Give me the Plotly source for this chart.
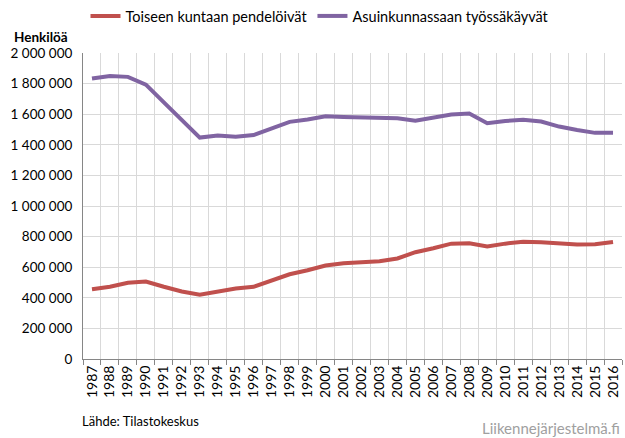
import plotly.graph_objects as go

years = [str(y) for y in range(1987, 2017)]
toiseen_kuntaan = [456000, 472000, 498000, 506000, 472000, 441000, 420000, 441000, 461000, 472000,
                   511000, 554000, 580000, 611000, 626000, 631000, 639000, 657000, 698000, 724000,
                   754000, 757000, 735000, 754000, 767000, 763000, 754000, 748000, 750000, 765000]
asuinkunnassa = [1833000, 1850000, 1844000, 1793000, 1677000, 1560000, 1447000, 1460000, 1453000, 1464000,
                 1508000, 1550000, 1565000, 1587000, 1582000, 1580000, 1574000, 1574000, 1558000, 1580000,
                 1598000, 1604000, 1541000, 1556000, 1563000, 1552000, 1519000, 1497000, 1478000, 1478000]
y_ticks = list(range(0, 2000001, 200000))

FONT = "Lato, 'Open Sans', sans-serif"

fig = go.Figure()
fig.add_trace(go.Scatter(x=years, y=toiseen_kuntaan, mode="lines", name="Toiseen kuntaan pendelöivät",
                         line=dict(color="#C0504D", width=4)))
fig.add_trace(go.Scatter(x=years, y=asuinkunnassa, mode="lines", name="Asuinkunnassaan työssäkäyvät",
                         line=dict(color="#8064A2", width=4)))

fig.update_layout(
    width=625, height=438,
    margin=dict(l=83, r=3, t=53, b=79, autoexpand=False),
    paper_bgcolor="white", plot_bgcolor="white",
    separators=", ",
    font=dict(family=FONT, size=13, color="#000000"),
    showlegend=True,
    legend=dict(orientation="h", x=0.512, xanchor="center", xref="container", y=1.0, yanchor="top",
                yref="container", font=dict(size=14.5, family=FONT), itemwidth=30,
                traceorder="normal", tracegroupgap=0),
    xaxis=dict(type="category", tickson="boundaries", showgrid=True, gridcolor="#D9D9D9", gridwidth=1,
               tickangle=-90, ticks="outside", ticklen=5, tickcolor="#868686",
               showline=True, linecolor="#868686", linewidth=1, tickfont=dict(size=14),
               range=[-0.5, 29.5], automargin=False),
    yaxis=dict(range=[0, 2000000], tickvals=y_ticks, tickformat=",d", showgrid=True,
               gridcolor="#D9D9D9", gridwidth=1, showline=True, linecolor="#868686", linewidth=1,
               ticks="", tickfont=dict(size=13.5), zeroline=False, automargin=False,
               ticklabelstandoff=7),
)

fig.add_annotation(text="<b>Henkilöä</b>", xref="paper", yref="paper", x=-0.024, y=1.052,
                   xanchor="right", yanchor="middle", showarrow=False, font=dict(size=13.5))
fig.add_annotation(text="Lähde: Tilastokeskus", xref="paper", yref="paper", x=-0.006, y=-0.17,
                   xanchor="left", yanchor="top", showarrow=False, font=dict(size=13))
fig.add_annotation(text="Liikennejärjestelmä.fi", xref="paper", yref="paper", x=1.0, y=-0.26,
                   xanchor="right", yanchor="bottom", showarrow=False,
                   font=dict(size=15, color="#A0A0A0"))

fig.write_html("out.html", config={"displayModeBar": False},
               post_script="document.body.style.margin='0';document.body.style.overflow='hidden';")
